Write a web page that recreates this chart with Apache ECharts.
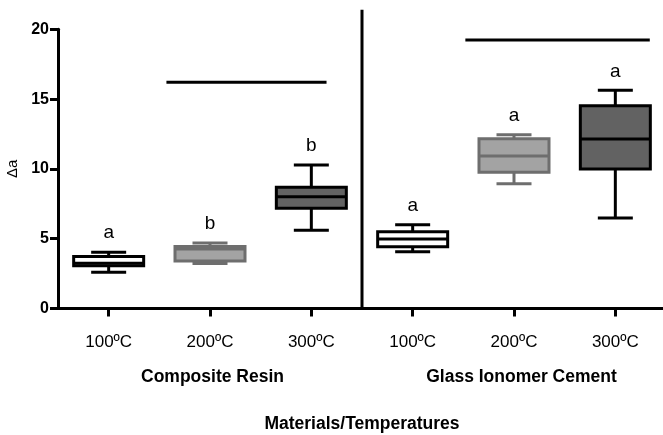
<!DOCTYPE html>
<html>
<head>
<meta charset="utf-8">
<script src="https://cdn.jsdelivr.net/npm/echarts@6/dist/echarts.min.js"></script>
<style>
html, body { margin: 0; padding: 0; background: #fff; }
#chart1 { width: 663px; height: 435px; }
</style>
</head>
<body>
<div id="chart1"></div>
<script>
var categories = ['100ºC', '200ºC', '300ºC', '100ºC', '200ºC', '300ºC']
// [min, Q1, median, Q3, max]
var boxValues = [
  [2.6, 3.06, 3.25, 3.72, 4.03],
  [3.22, 3.4, 4.26, 4.45, 4.7],
  [5.6, 7.18, 8.0, 8.68, 10.28],
  [4.07, 4.43, 4.98, 5.5, 6.0],
  [8.94, 9.76, 10.92, 12.16, 12.45],
  [6.48, 9.99, 12.14, 14.53, 15.63]
]
var letters = ['a', 'b', 'b', 'a', 'a', 'a']
var groups = ['Composite Resin', 'Glass Ionomer Cement']
var yTicks = [0, 5, 10, 15, 20]
// significance bars: [from, to, level], x in category units
var bars = [[0.57, 2.15, 16.2], [3.52, 5.34, 19.23]]
var divider = [2.5, 21.4]

var fills = ['#ffffff', '#a3a3a3', '#636363', '#ffffff', '#a3a3a3', '#626262']
var strokes = ['#000000', '#6e6e6e', '#000000', '#000000', '#6e6e6e', '#000000']
var fontMain = '"Liberation Sans", Arial, sans-serif'

function renderBox (params, api) {
  var i = api.value(0)
  var lo = api.coord([i, api.value(1)])
  var q1 = api.coord([i, api.value(2)])
  var md = api.coord([i, api.value(3)])
  var q3 = api.coord([i, api.value(4)])
  var hi = api.coord([i, api.value(5)])
  var x = lo[0]
  var half = 35
  var cap = 17.5
  var line = { stroke: strokes[i], lineWidth: 3 }
  return {
    type: 'group',
    children: [
      { type: 'line', shape: { x1: x, y1: hi[1], x2: x, y2: q3[1] }, style: line },
      { type: 'line', shape: { x1: x, y1: q1[1], x2: x, y2: lo[1] }, style: line },
      { type: 'line', shape: { x1: x - cap, y1: hi[1], x2: x + cap, y2: hi[1] }, style: line },
      { type: 'line', shape: { x1: x - cap, y1: lo[1], x2: x + cap, y2: lo[1] }, style: line },
      {
        type: 'rect',
        shape: { x: x - half, y: q3[1], width: half * 2, height: q1[1] - q3[1] },
        style: { fill: fills[i], stroke: strokes[i], lineWidth: 3 }
      },
      { type: 'line', shape: { x1: x - half, y1: md[1], x2: x + half, y2: md[1] }, style: line },
      {
        type: 'text',
        x: x,
        y: hi[1] - 19,
        style: {
          text: letters[i],
          fill: '#000',
          fontSize: 19,
          fontFamily: fontMain,
          align: 'center',
          verticalAlign: 'middle'
        }
      }
    ]
  }
}

var charts = echarts.init(document.getElementById('chart1'))
var option = {
  animation: false,
  grid: { left: 58, right: -3, top: 29.3, bottom: 126.5, outerBoundsMode: 'none' },
  xAxis: [
    {
      type: 'category',
      data: categories,
      axisLine: { lineStyle: { color: '#000', width: 3 } },
      axisTick: { show: true, interval: 0, alignWithLabel: true, length: 8, lineStyle: { color: '#000', width: 3 } },
      axisLabel: { color: '#000', fontSize: 17, fontFamily: fontMain, margin: 25, interval: 0 },
      name: 'Materials/Temperatures',
      nameLocation: 'middle',
      nameGap: 107,
      nameTextStyle: { color: '#000', fontSize: 17.5, fontWeight: 'bold', fontFamily: fontMain }
    },
    { type: 'value', min: -0.5, max: 5.5, show: false }
  ],
  yAxis: {
    type: 'value',
    min: yTicks[0],
    max: yTicks[yTicks.length - 1],
    interval: yTicks[1] - yTicks[0],
    splitLine: { show: false },
    axisLine: { show: true, onZero: false, lineStyle: { color: '#000', width: 3 } },
    axisTick: { show: true, length: 8, lineStyle: { color: '#000', width: 3 } },
    axisLabel: { color: '#000', fontSize: 16, fontWeight: 'bold', fontFamily: fontMain, margin: 9 },
    name: 'Δa',
    nameLocation: 'middle',
    nameRotate: 90,
    nameGap: 35,
    nameTextStyle: { color: '#000', fontSize: 15, fontFamily: fontMain }
  },
  graphic: [
    { type: 'text', x: 212.5, y: 377, style: { text: groups[0], fill: '#000', fontSize: 17.5, fontWeight: 'bold', fontFamily: fontMain, align: 'center', verticalAlign: 'middle' } },
    { type: 'text', x: 521.5, y: 377, style: { text: groups[1], fill: '#000', fontSize: 17.5, fontWeight: 'bold', fontFamily: fontMain, align: 'center', verticalAlign: 'middle' } }
  ],
  series: [
    {
      type: 'custom',
      silent: true,
      renderItem: renderBox,
      encode: { x: 0, y: [1, 2, 3, 4, 5] },
      data: boxValues.map(function (v, i) { return [i].concat(v) })
    }
  ].concat(bars.map(function (b) {
    return {
      type: 'line',
      xAxisIndex: 1,
      silent: true,
      clip: false,
      symbol: 'none',
      lineStyle: { color: '#000', width: 3 },
      data: [[b[0], b[2]], [b[1], b[2]]]
    }
  })).concat([{
    type: 'line',
    xAxisIndex: 1,
    silent: true,
    clip: false,
    symbol: 'none',
    lineStyle: { color: '#000', width: 3 },
    data: [[divider[0], 0], [divider[0], divider[1]]]
  }])
}
charts.setOption(option)
window.addEventListener('resize', function () {
  charts.resize()
})
</script>
</body>
</html>
